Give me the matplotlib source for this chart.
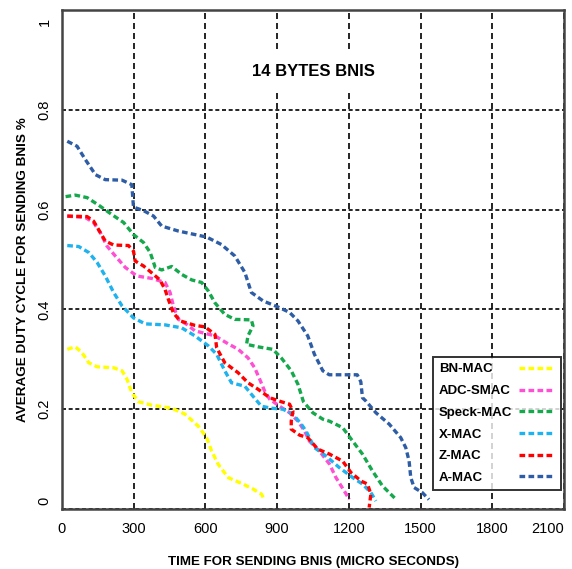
import matplotlib
matplotlib.use("Agg")
import matplotlib.pyplot as plt
from matplotlib.transforms import ScaledTranslation

plt.rcParams['font.family'] = ['Liberation Sans', 'DejaVu Sans']

# series (time in micro seconds, duty cycle)
bn_x = [22, 56, 84, 112, 147, 216, 251, 272, 292, 320, 376, 459, 515, 570, 605, 626, 653, 695, 757, 799, 834, 848]
bn_y = [.320, .325, .313, .293, .285, .283, .277, .260, .233, .215, .208, .202, .190, .166, .143, .116, .090, .063, .050, .040, .030, .018]

adc_x = [22, 98, 132, 160, 188, 223, 265, 313, 376, 431, 452, 466, 487, 522, 556, 640, 688, 737, 778, 806, 827, 848,
         869, 910, 952, 987, 1015, 1035, 1077, 1119, 1146, 1181, 1202]
adc_y = [.587, .584, .574, .554, .527, .507, .484, .467, .462, .454, .434, .407, .380, .370, .357, .347, .333, .320, .303,
         .283, .260, .236, .220, .206, .193, .176, .156, .136, .116, .090, .063, .036, .019]

speck_x = [15, 56, 105, 153, 209, 258, 299, 341, 369, 390, 417, 459, 501, 543, 584, 612, 640, 681, 723, 792, 799, 778,
           772, 820, 882, 917, 959, 987, 1010, 1049, 1091, 1119, 1174, 1216, 1257, 1299, 1341, 1400]
speck_y = [.626, .629, .624, .609, .590, .574, .550, .534, .514, .484, .479, .486, .470, .459, .454, .437, .413, .390,
           .380, .379, .367, .347, .330, .325, .320, .303, .277, .250, .215, .193, .180, .176, .163, .136, .110, .076,
           .046, .018]

xmac_x = [22, 70, 112, 147, 181, 216, 251, 299, 348, 431, 501, 556, 612, 647, 681, 709, 765, 799, 834, 876, 924, 966,
          1001, 1021, 1056, 1105, 1160, 1216, 1257, 1292, 1313]
xmac_y = [.528, .526, .514, .494, .467, .434, .407, .383, .371, .369, .363, .347, .327, .310, .277, .253, .246, .226,
          .206, .202, .200, .190, .170, .156, .123, .106, .083, .063, .050, .033, .016]

zmac_x = [22, 105, 132, 153, 181, 216, 278, 299, 306, 341, 376, 410, 431, 445, 466, 494, 556, 598, 640, 647, 681, 737,
          778, 820, 869, 917, 952, 966, 959, 959, 994, 1028, 1070, 1119, 1174, 1209, 1251, 1278, 1292, 1285]
zmac_y = [.587, .586, .577, .560, .537, .529, .528, .517, .497, .487, .473, .459, .440, .420, .393, .377, .368, .365,
          .350, .323, .293, .273, .253, .240, .223, .215, .210, .196, .176, .160, .148, .143, .120, .110, .096, .073,
          .056, .050, .030, .003]

amac_x = [22, 63, 98, 140, 181, 251, 292, 299, 341, 383, 417, 487, 556, 605, 667, 723, 765, 792, 841, 903, 952, 987,
          1028, 1056, 1091, 1118, 1160, 1235, 1250, 1257, 1272, 1313, 1369, 1417, 1438, 1452, 1459, 1473, 1507, 1535]
amac_y = [.737, .727, .700, .670, .660, .659, .650, .605, .598, .587, .567, .557, .550, .545, .530, .507, .474, .434,
          .417, .405, .394, .377, .347, .310, .277, .269, .269, .269, .255, .223, .216, .193, .170, .143, .123, .096,
          .063, .043, .033, .019]

labels = ['BN-MAC', 'ADC-SMAC', 'Speck-MAC', 'X-MAC', 'Z-MAC', 'A-MAC']
colors = ['#FFFF00', '#FF4FD2', '#16A84C', '#1EB2EE', '#FF0000', '#2E5DA6']
series = [(bn_x, bn_y), (adc_x, adc_y), (speck_x, speck_y), (xmac_x, xmac_y), (zmac_x, zmac_y), (amac_x, amac_y)]

xticks = [0, 300, 600, 900, 1200, 1500, 1800, 2100]
yticks = [0, 0.2, 0.4, 0.6, 0.8, 1]
yticklabels = ['0', '0.2', '0.4', '0.6', '0.8', '1']

fig = plt.figure(figsize=(5.72, 5.69), dpi=100)
ax = fig.add_axes([62/572, 1 - 509/569, 502/572, 499/569])

for (xs, ys), lab, col in zip(series, labels, colors):
    ax.plot(xs, ys, color=col, lw=2.4, linestyle=(0, (1.7, 1.0)), label=lab, zorder=3)

ax.set_xlim(0, 2100)
ax.set_ylim(0, 1)
ax.set_xticks(xticks)
ax.set_yticks(yticks)
ax.set_yticklabels(yticklabels, rotation=90, va='center')
ax.tick_params(length=0, labelsize=10.5)
ax.tick_params(axis='x', pad=9.5)
ax.tick_params(axis='y', pad=7.5)

xl = ax.get_xticklabels()
xl[-1].set_ha('right')
yl = ax.get_yticklabels()
yl[0].set_va('bottom')
yl[0].set_transform(yl[0].get_transform() + ScaledTranslation(0, 4/100, fig.dpi_scale_trans))
yl[-1].set_va('top')
yl[-1].set_transform(yl[-1].get_transform() + ScaledTranslation(0, -8/100, fig.dpi_scale_trans))

ax.xaxis.grid(True, color='black', lw=1.2, linestyle=(0, (3.6, 2.4)), zorder=1)
ax.yaxis.grid(True, color='black', lw=1.2, linestyle=(0, (2.4, 1.6)), zorder=1)
ax.set_axisbelow(True)

for sp in ax.spines.values():
    sp.set_color('#444444')
    sp.set_linewidth(1.8)

ax.text(0.5, 0.877, '14 BYTES BNIS', transform=ax.transAxes, ha='center', va='center',
        fontsize=12, fontweight='bold', zorder=4,
        bbox=dict(facecolor='white', edgecolor='none', pad=9))
ax.set_xlabel('TIME FOR SENDING BNIS (MICRO SECONDS)', fontsize=9.6, fontweight='bold', labelpad=14)
ax.set_ylabel('AVERAGE DUTY CYCLE FOR SENDING BNIS %', fontsize=9.7, fontweight='bold', labelpad=6, y=0.479)

leg = ax.legend(loc='lower right', bbox_to_anchor=(0.994, 0.038), markerfirst=False, fancybox=False,
                frameon=True, edgecolor='black', prop={'weight': 'bold', 'size': 9.5},
                handlelength=2.7, handletextpad=0.9, labelspacing=0.72, borderpad=0.45, borderaxespad=0)
leg.get_frame().set_linewidth(1.4)
leg.set_zorder(5)
# put the label text on the left and the line sample on the right of each row
for col in leg._legend_handle_box.get_children():
    col.align = 'left'
    for item in col.get_children():
        item.mode = 'expand'
        item.width = 116

fig.savefig('out.png', dpi=100)
